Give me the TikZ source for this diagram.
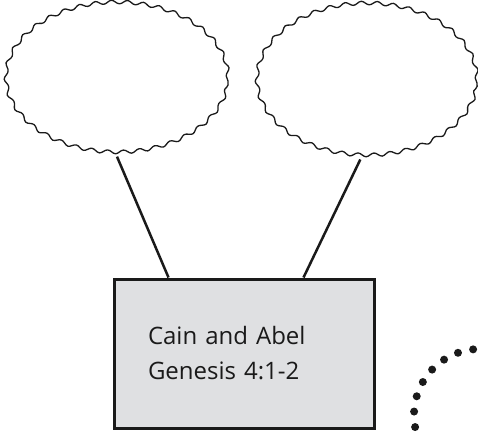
\documentclass[tikz,border=0pt]{standalone}
\usepackage{fontspec}
\setmainfont{Open Sans}
\usetikzlibrary{shapes.geometric,decorations.pathmorphing}
\definecolor{boxgray}{HTML}{DFE0E2}
\definecolor{ink}{HTML}{1A1A1A}
\begin{document}
\begin{tikzpicture}[x=1pt,y=-1pt,
        cloud/.style={ellipse,draw=ink,line width=1.3pt,decorate,
            decoration={snake,segment length=16pt,amplitude=1.8pt}},
        storybox/.style={draw=ink,fill=boxgray,line width=3pt,
            minimum width=260pt,minimum height=149pt,text width=192pt,
            align=left,font=\fontsize{24}{35}\selectfont,text=ink},
        link/.style={draw=ink,line width=2.5pt},
        dot/.style={fill=ink}]
\useasboundingbox (0,0) rectangle (478,432);

\node[cloud,minimum width=222pt,minimum height=150pt] (leftcloud) at (117,81) {};
\node[cloud,minimum width=220pt,minimum height=152pt] (rightcloud) at (367,83) {};

\node[storybox] (story) at (244,353.5) {Cain and Abel\\Genesis 4:1-2};

\draw[link] (leftcloud.south) -- ([xshift=56pt]story.north west);
\draw[link] (rightcloud.-95) -- ([xshift=-72pt]story.north east);

% dotted arc, bottom right
\foreach \a in {-96,-109.5,...,-191}
    \fill[dot] (480,415) ++(\a:66) circle (4pt);
\end{tikzpicture}
\end{document}
